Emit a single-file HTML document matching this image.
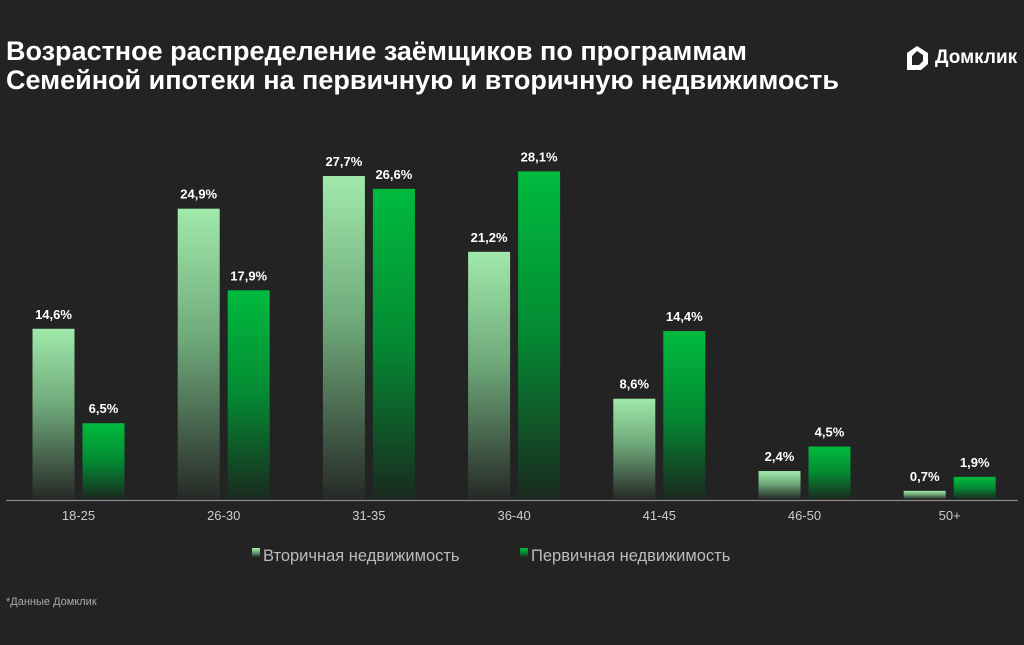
<!DOCTYPE html>
<html><head><meta charset="utf-8"><style>
body{margin:0;background:#232323;width:1024px;height:645px;overflow:hidden;font-family:"Liberation Sans",sans-serif;}
#title{position:absolute;left:6px;top:37px;color:#fff;font-weight:bold;font-size:27px;line-height:29px;letter-spacing:0px}
#logo{position:absolute;left:904px;top:44px;color:#fff;font-weight:bold;font-size:19px;display:flex;align-items:center;gap:5px}
#src{position:absolute;left:6px;top:596px;color:#aaa;font-size:11px}
</style></head><body>
<div id="title">Возрастное распределение заёмщиков по программам<br>Семейной ипотеки на первичную и вторичную недвижимость</div>
<div id="logo"><svg width="26" height="28" viewBox="0 0 26 28"><path d="M13 2 L24 9 V20 L17 26 H3 V9 Z M8 12 V21 H15 L19 17 V11 L13 7 Z" fill="#fff" fill-rule="evenodd"/></svg><span>Домклик</span></div>
<div id="src">*Данные Домклик</div>
<svg id="chart" width="1024" height="645" style="position:absolute;left:0;top:0">
<defs>
<linearGradient id="gl" x1="0" y1="0" x2="0" y2="1"><stop offset="0" stop-color="#a1e9ab"/><stop offset="0.45" stop-color="#6fa97a"/><stop offset="1" stop-color="#262a27"/></linearGradient>
<linearGradient id="gd" x1="0" y1="0" x2="0" y2="1"><stop offset="0" stop-color="#00bb3e"/><stop offset="0.5" stop-color="#048a33"/><stop offset="1" stop-color="#1a2a1f"/></linearGradient>
</defs>
</svg>
<script>
const categories=["18-25","26-30","31-35","36-40","41-45","46-50","50+"];
const secondary=[14.6,24.9,27.7,21.2,8.6,2.4,0.7];
const primary=[6.5,17.9,26.6,28.1,14.4,4.5,1.9];
const legendLabels=["Вторичная недвижимость","Первичная недвижимость"];
const svg=document.getElementById('chart');const NS="http://www.w3.org/2000/svg";
const base=499,scale=11.66,x0=78.5,step=145.2,bw=42,gap=8;
const y=v=>base-v*scale;const xc=i=>x0+i*step;
function mk(t,a){const e=document.createElementNS(NS,t);for(const k in a)e.setAttribute(k,a[k]);svg.appendChild(e);return e;}
const fmt=v=>v.toFixed(1).replace('.',',')+'%';
categories.forEach((c,i)=>{
 [[secondary[i],xc(i)-gap/2-bw,'url(#gl)','secondary'],[primary[i],xc(i)+gap/2,'url(#gd)','primary']].forEach(([v,x,f,n])=>{
  const r=mk('rect',{x:x,y:y(v),width:bw,height:base-y(v),fill:f});
  
  
  const t=mk('text',{x:x+bw/2,y:y(v)-10,'text-anchor':'middle',fill:'#fff','font-size':13,'font-weight':'bold'});
  t.textContent=fmt(v);
  
  
 });
 const l=mk('text',{x:xc(i),y:520,'text-anchor':'middle',fill:'#ccc','font-size':13});
 l.textContent=c;
 
 
});
const ax=mk('line',{x1:6,x2:1018,y1:500.5,y2:500.5,stroke:'#888','stroke-width':1.2});


[[252,'url(#gl)'],[520,'url(#gd)']].forEach(([lx,f],k)=>{
 const s=mk('rect',{x:lx,y:548,width:8,height:9,fill:f});
 
 
 const t=mk('text',{x:lx+11,y:561,fill:'#bbb','font-size':16.5});
 t.textContent=legendLabels[k];
 
 
});
</script>
</body></html>
